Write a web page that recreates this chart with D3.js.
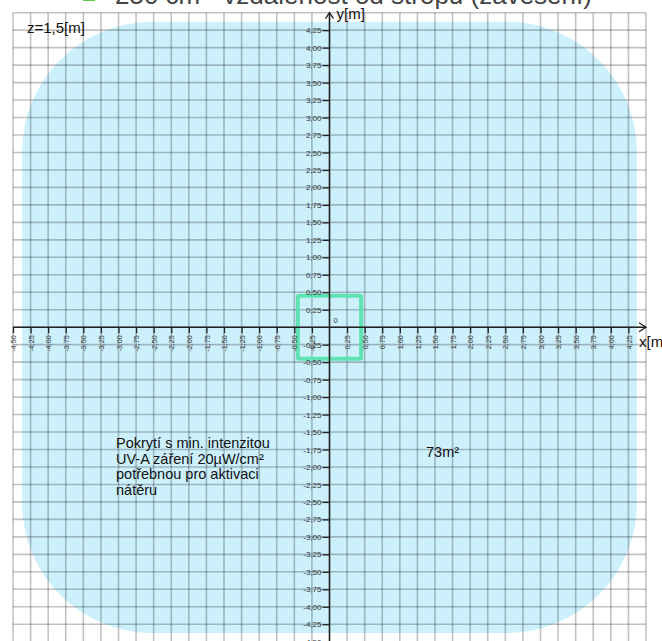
<!DOCTYPE html>
<html><head><meta charset="utf-8">
<script src="https://cdn.jsdelivr.net/npm/d3@7"></script>
<style>body{margin:0;background:#fff}svg{display:block;font-family:"Liberation Sans",Arial,sans-serif}</style>
</head><body>
<svg id="c" width="662" height="641"></svg>
<script>
// ---- data ----
const titleText = "250 cm - vzdálenost od stropu (zavěšení)";
const heightLabel = "z=1,5[m]";
const areaLabel = "73m²";
const noteLines = ["Pokrytí s min. intenzitou", "UV-A záření 20µW/cm²", "potřebnou pro aktivaci", "nátěru"];
const gridDomain = [-4.5, 4.5];
const xTickValues = [-4.5,-4.25,-4,-3.75,-3.5,-3.25,-3,-2.75,-2.5,-2.25,-2,-1.75,-1.5,-1.25,-1,-0.75,-0.5,-0.25,0.25,0.5,0.75,1,1.25,1.5,1.75,2,2.25,2.5,2.75,3,3.25,3.5,3.75,4,4.25];
const yTickValues = [-4.5,-4.25,-4,-3.75,-3.5,-3.25,-3,-2.75,-2.5,-2.25,-2,-1.75,-1.5,-1.25,-1,-0.75,-0.5,-0.25,0.25,0.5,0.75,1,1.25,1.5,1.75,2,2.25,2.5,2.75,3,3.25,3.5,3.75,4,4.25];
const gridValues = [-4.5,-4.25,-4,-3.75,-3.5,-3.25,-3,-2.75,-2.5,-2.25,-2,-1.75,-1.5,-1.25,-1,-0.75,-0.5,-0.25,0,0.25,0.5,0.75,1,1.25,1.5,1.75,2,2.25,2.5,2.75,3,3.25,3.5,3.75,4,4.25,4.5];
const coverageX = [-4.37, 4.37];
const coverageY = [-4.375, 4.37];
const coverageRadius = 1.85;
const fixtureX = [-0.45, 0.45];
const fixtureY = [-0.45, 0.45];

// ---- chart ----
const svg = d3.select("#c");
const x = d3.scaleLinear().domain(gridDomain).range([13, 646]);
const y = d3.scaleLinear().domain(gridDomain).range([641.7, 12.7]);
const fmt = v => d3.format(".2f")(v).replace(".", ",").replace("\u2212", "-");

// coverage area
const rpx = x(coverageRadius) - x(0);
svg.append("rect")
  .attr("x", x(coverageX[0])).attr("y", y(coverageY[1]))
  .attr("width", x(coverageX[1]) - x(coverageX[0]))
  .attr("height", y(coverageY[0]) - y(coverageY[1]))
  .attr("rx", rpx).attr("ry", rpx)
  .attr("fill", "#ccf0fc");

// grid
const g = svg.append("g").attr("stroke", "#000").attr("stroke-opacity", 0.24).attr("stroke-width", 1.6);
g.selectAll(".v").data(gridValues).join("line")
  .attr("x1", d => x(d)).attr("x2", d => x(d)).attr("y1", y(4.5)).attr("y2", 645);
g.selectAll(".h").data(gridValues).join("line")
  .attr("y1", d => y(d)).attr("y2", d => y(d)).attr("x1", x(-4.5)).attr("x2", x(4.5));

// fixture square
svg.append("rect")
  .attr("x", x(fixtureX[0])).attr("y", y(fixtureY[1]))
  .attr("width", x(fixtureX[1]) - x(fixtureX[0]))
  .attr("height", y(fixtureY[0]) - y(fixtureY[1]))
  .attr("rx", 1.5)
  .attr("fill", "none").attr("stroke", "#5fe3b2").attr("stroke-width", 4);

// x axis
const xAxis = d3.axisBottom(x).tickValues(xTickValues).tickSize(6).tickPadding(2).tickFormat(fmt);
const xa = svg.append("g").attr("transform", `translate(0,${y(0)})`).call(xAxis);
xa.select(".domain").remove();
xa.selectAll(".tick line").attr("stroke", "#222").attr("stroke-width", 1.3);
xa.selectAll(".tick text")
  .attr("font-size", 7.2).attr("fill", "#333").attr("font-family", "Liberation Sans, Arial")
  .attr("text-anchor", "end").attr("dy", null).attr("y", null)
  .attr("transform", "translate(2.6,8) rotate(-90)");
svg.append("line").attr("x1", x(-4.5)).attr("x2", x(4.5)).attr("y1", y(0)).attr("y2", y(0))
  .attr("stroke", "#222").attr("stroke-width", 1.5);
svg.append("path").attr("d", `M${x(4.5)-7},${y(0)-4.5}L${x(4.5)},${y(0)}L${x(4.5)-7},${y(0)+4.5}`)
  .attr("fill", "none").attr("stroke", "#222").attr("stroke-width", 1.3);

// y axis
const yAxis = d3.axisLeft(y).tickValues(yTickValues).tickSize(7).tickPadding(1).tickFormat(fmt);
const ya = svg.append("g").attr("transform", `translate(${x(0)},0)`).call(yAxis);
ya.select(".domain").remove();
ya.selectAll(".tick line").attr("stroke", "#222").attr("stroke-width", 1.3);
ya.selectAll(".tick text").attr("font-size", 8).attr("fill", "#333").attr("font-family", "Liberation Sans, Arial");
svg.append("line").attr("x1", x(0)).attr("x2", x(0)).attr("y1", y(4.5)).attr("y2", 645)
  .attr("stroke", "#222").attr("stroke-width", 1.5);
svg.append("path").attr("d", `M${x(0)-4},${y(4.5)+6}L${x(0)},${y(4.5)}L${x(0)+4},${y(4.5)+6}`)
  .attr("fill", "none").attr("stroke", "#222").attr("stroke-width", 1.3);

// labels
svg.append("text").attr("x", x(0) + 4).attr("y", y(0) - 4).attr("font-size", 7.5).attr("fill", "#333").text("0");
svg.append("text").attr("x", x(0) + 7).attr("y", 19).attr("font-size", 15).attr("fill", "#111").text("y[m]");
svg.append("text").attr("x", 639).attr("y", y(0) + 20).attr("font-size", 15).attr("fill", "#111").text("x[m]");
svg.append("text").attr("x", 27).attr("y", 33).attr("font-size", 15).attr("fill", "#111").text(heightLabel);
svg.append("text").attr("x", 426).attr("y", 457).attr("font-size", 14.5).attr("fill", "#111").text(areaLabel);
const note = svg.append("text").attr("x", 116).attr("y", 448).attr("font-size", 14.5).attr("fill", "#111");
note.selectAll("tspan").data(noteLines).join("tspan").attr("x", 116).attr("dy", (d, i) => i ? 15.5 : 0).text(d => d);

// title legend
svg.append("rect").attr("x", 83).attr("y", -11).attr("width", 12).attr("height", 12).attr("fill", "#66c944");
svg.append("text").attr("x", 115).attr("y", 4).attr("font-size", 26).attr("fill", "#444").text(titleText);
</script>
</body></html>
